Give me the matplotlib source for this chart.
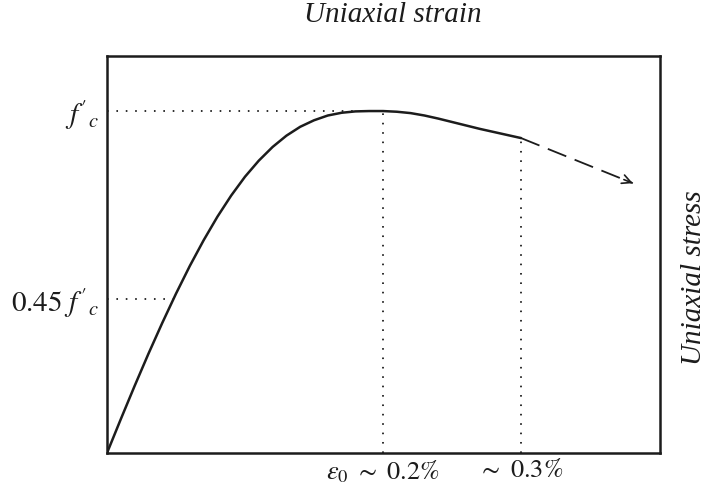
import matplotlib.pyplot as plt
import numpy as np

plt.rcParams.update({'font.family': 'Liberation Serif', 'mathtext.fontset': 'stix'})

# stress-strain curve of concrete in uniaxial compression (strain in %, stress / f'c)
strain = [0, 0.01, 0.02, 0.03, 0.04, 0.05, 0.06, 0.07, 0.08, 0.09, 0.10,
          0.11, 0.12, 0.13, 0.14, 0.15, 0.16, 0.17, 0.18, 0.19, 0.20,
          0.21, 0.22, 0.23, 0.24, 0.25, 0.26, 0.27, 0.28, 0.29, 0.30]
stress = [0, 0.099, 0.196, 0.290, 0.380, 0.466, 0.547, 0.622, 0.691, 0.753, 0.808,
          0.855, 0.895, 0.928, 0.954, 0.973, 0.987, 0.995, 0.999, 1.0, 1.0,
          0.998, 0.994, 0.987, 0.978, 0.968, 0.958, 0.948, 0.939, 0.930, 0.921]

# softening branch continues past the plotted data
tail_end = [0.381, 0.789]

eps_peak = 0.2
eps_2 = 0.3
low_level = 0.45

ytick_vals = [low_level, 1.0]
ytick_labels = [r"$0.45\ f'_c$", r"$f'_c$"]
xtick_vals = [eps_peak, eps_2]
xtick_labels = [r"$\varepsilon_{\mathit{0}}\ \sim\ 0.2\%$", r"$\sim\ 0.3\%$"]

ink = '#1c1c1c'

fig = plt.figure(figsize=(7.1, 5.0), dpi=100)
ax = fig.add_axes([0.1507, 0.094, 0.7789, 0.794])

ax.plot(strain, stress, color=ink, lw=1.8, solid_capstyle='round')

# dashed continuation with open arrow head
ax.plot([strain[-1], tail_end[0]], [stress[-1], tail_end[1]], color=ink, lw=1.3,
        dashes=(11, 5))
dx = tail_end[0] - strain[-1]
dy = tail_end[1] - stress[-1]
ax.annotate('', xy=tail_end, xytext=(tail_end[0] - 0.08 * dx, tail_end[1] - 0.08 * dy),
            arrowprops=dict(arrowstyle='->', color=ink, lw=1.2,
                            mutation_scale=16, shrinkA=0, shrinkB=0))

# guide lines
dot = dict(color=ink, lw=1.3, linestyle=(0, (0.9, 4.3)))
rise = int(np.argmax(stress)) + 1
x_low = np.interp(low_level, stress[:rise], strain[:rise])
ax.plot([0, eps_peak], [1.0, 1.0], **dot)
ax.plot([0, x_low], [low_level, low_level], **dot)
ax.plot([eps_peak, eps_peak], [0, 1.0], **dot)
ax.plot([eps_2, eps_2], [0, stress[-1]], **dot)

ax.set_xlim(0, 0.4007)
ax.set_ylim(0, 1.161)

ax.set_yticks(ytick_vals)
ax.set_yticklabels(ytick_labels, fontsize=21)
ax.set_xticks(xtick_vals)
ax.set_xticklabels(xtick_labels, fontsize=19)
ax.tick_params(axis='both', length=0, colors=ink)
ax.tick_params(axis='y', pad=6)
ax.tick_params(axis='x', pad=4)

for s in ax.spines.values():
    s.set_linewidth(1.8)
    s.set_color(ink)

fig.text(0.553, 0.97, 'Uniaxial strain', fontsize=21, fontstyle='italic',
         ha='center', va='center', color=ink)
fig.text(0.977, 0.444, 'Uniaxial stress', fontsize=21, fontstyle='italic',
         ha='center', va='center', rotation=90, color=ink)

fig.savefig('out.png', dpi=100, facecolor='white')
